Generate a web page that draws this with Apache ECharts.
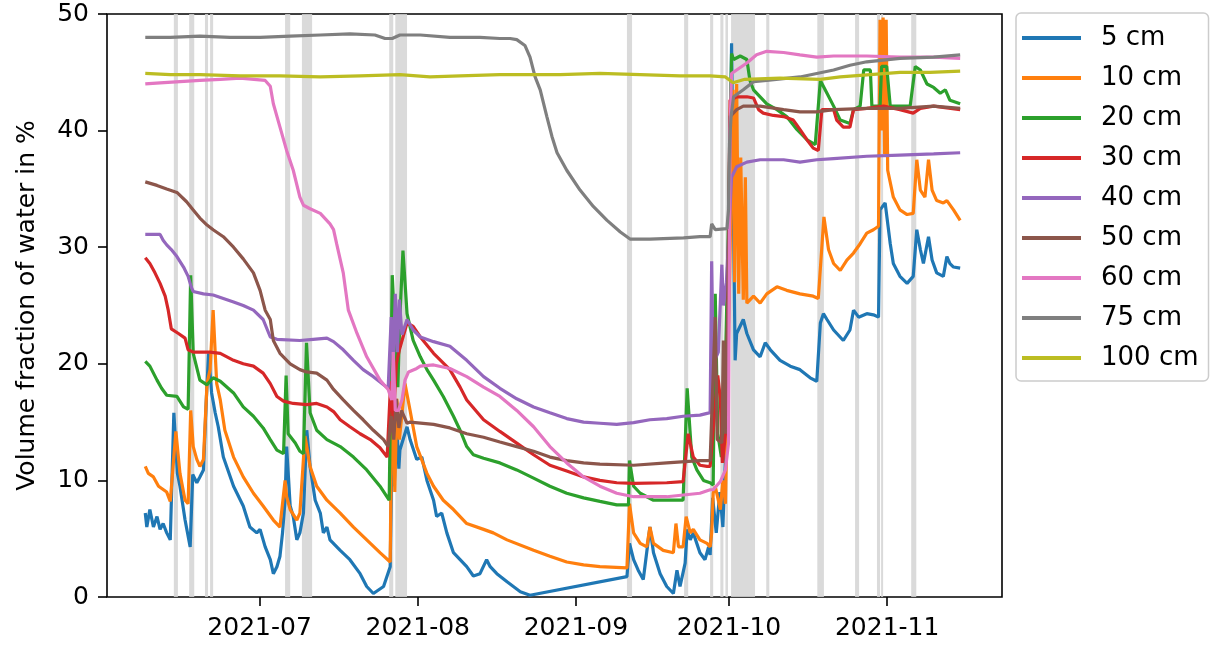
<!DOCTYPE html>
<html>
<head>
<meta charset="utf-8">
<script src="https://cdn.jsdelivr.net/npm/echarts@6/dist/echarts.min.js"></script>
<style>
html,body{margin:0;padding:0;background:#fff;}
#chart{width:1214px;height:645px;}
</style>
</head>
<body>
<div id="chart"></div>
<script>
// x values: days since 2021-07-01 00:00 ; y values: volume fraction of water in %
const seriesNames = ['5 cm','10 cm','20 cm','30 cm','40 cm','50 cm','60 cm','75 cm','100 cm'];
const tickLabels = ['2021-07','2021-08','2021-09','2021-10','2021-11'];
const yTicks = [0,10,20,30,40,50];

const s5 = [[-22.4,7.2],[-22.1,6.0],[-21.5,7.5],[-20.8,6.0],[-20.1,6.9],[-19.5,5.8],[-18.9,6.3],[-18.2,5.5],[-17.5,4.9],[-16.8,15.8],[-16.1,10.6],[-15.6,9.5],[-14.6,6.6],[-13.6,4.3],[-13.1,10.5],[-12.3,9.8],[-11.7,10.3],[-11.0,10.9],[-10.5,16.3],[-10.0,20.9],[-9.4,17.5],[-8.7,15.8],[-8.1,14.6],[-7.1,12.0],[-5.1,9.5],[-3.2,7.8],[-1.9,6.0],[-0.55,5.5],[0.1,5.8],[1.1,4.3],[2.1,3.2],[2.7,2.0],[3.4,2.6],[4.0,3.5],[4.5,5.5],[5.0,8.3],[5.3,12.9],[6.0,7.8],[6.6,6.9],[7.3,4.9],[7.9,5.5],[8.6,7.2],[9.25,14.3],[9.9,11.2],[10.9,8.3],[11.9,7.2],[12.5,5.5],[13.2,6.0],[13.8,4.9],[15.8,4.0],[17.7,3.2],[19.7,2.0],[21.0,0.9],[22.3,0.3],[24.3,0.9],[25.6,2.6],[26.0,14.5],[26.4,9.5],[26.8,15.5],[27.3,11.0],[27.5,12.6],[28.9,14.6],[29.5,13.5],[30.8,11.8],[31.8,12.0],[32.8,10.0],[34.1,8.3],[34.7,6.9],[35.7,7.2],[36.7,5.5],[38.0,3.8],[39.3,3.2],[40.6,2.6],[41.9,1.8],[43.2,2.0],[44.5,3.2],[45.2,2.6],[46.5,2.0],[48.5,1.3],[51.1,0.45],[53.0,0.15],[72.0,1.75],[72.5,4.6],[73.3,3.2],[74.2,2.3],[75.2,1.5],[76.5,6.0],[77.2,3.8],[78.5,2.0],[79.8,0.9],[81.1,0.3],[81.8,2.3],[82.4,0.9],[83.4,2.9],[83.8,5.8],[84.4,4.9],[85.0,5.5],[86.3,3.8],[87.3,3.2],[88.0,4.3],[88.3,3.6],[88.8,8.5],[89.5,5.5],[90.2,9.0],[90.8,6.0],[91.3,12.0],[91.8,20.0],[92.5,47.5],[93.2,20.3],[93.5,22.6],[94.8,23.8],[95.5,22.6],[96.8,21.2],[98.1,20.6],[99.1,21.8],[100.1,21.2],[102.0,20.3],[104.0,19.8],[105.9,19.5],[107.9,18.8],[109.2,18.5],[109.9,23.5],[110.5,24.3],[111.2,23.8],[112.5,22.9],[114.4,22.0],[115.7,22.9],[116.4,24.6],[117.4,24.0],[119.0,24.3],[120.3,24.2],[121.3,24.0],[121.6,33.2],[122.6,33.8],[123.6,30.3],[124.2,28.6],[125.5,27.5],[126.9,26.9],[128.1,27.5],[128.8,31.5],[129.5,29.8],[130.1,28.6],[131.1,30.9],[131.8,28.9],[132.7,27.8],[134.0,27.5],[134.7,29.2],[135.3,28.6],[136.0,28.3],[137.3,28.2]];

const s10 = [[-22.4,11.2],[-21.8,10.6],[-20.8,10.3],[-19.8,9.5],[-18.2,9.0],[-17.5,8.2],[-16.4,14.2],[-15.6,10.6],[-14.6,8.3],[-14.0,8.0],[-13.5,16.0],[-13.0,12.9],[-12.3,11.8],[-11.7,11.2],[-11.0,11.8],[-10.3,18.3],[-9.7,19.5],[-9.1,24.6],[-8.4,18.3],[-7.7,16.9],[-6.8,14.3],[-5.1,12.0],[-3.2,10.3],[-1.2,8.9],[0.7,7.8],[2.7,6.6],[4.0,6.0],[5.0,10.0],[5.3,8.6],[6.0,7.5],[7.3,6.6],[7.9,7.2],[8.9,13.8],[9.9,11.2],[11.2,9.5],[13.2,8.3],[15.8,7.2],[18.4,6.0],[21.0,4.9],[23.6,3.8],[25.6,3.0],[26.0,21.0],[26.5,9.0],[26.9,17.0],[27.4,13.5],[28.5,18.3],[29.5,16.0],[30.8,12.9],[32.8,10.6],[34.1,9.5],[36.0,8.3],[38.0,7.5],[40.6,6.3],[43.9,5.8],[45.8,5.5],[48.5,4.9],[53.7,4.0],[56.9,3.5],[60.2,3.0],[63.5,2.75],[66.7,2.6],[72.0,2.5],[72.5,8.0],[73.3,5.5],[74.6,4.6],[75.9,4.3],[76.5,6.0],[77.2,4.6],[79.1,4.0],[81.1,3.8],[81.6,6.3],[82.1,4.3],[83.0,4.3],[83.6,6.9],[84.4,5.5],[85.0,5.8],[86.3,4.9],[87.7,4.6],[88.3,4.3],[88.6,5.5],[88.9,8.9],[89.3,9.5],[89.9,8.3],[90.3,7.5],[90.8,10.0],[91.3,8.0],[91.8,20.0],[92.8,43.5],[93.1,27.0],[93.5,44.0],[93.9,26.0],[94.3,37.7],[94.8,25.5],[95.2,36.0],[95.5,25.2],[96.8,25.8],[98.1,25.2],[99.4,26.0],[100.4,26.3],[101.4,26.6],[103.3,26.3],[105.9,26.0],[108.5,25.8],[109.5,25.6],[110.6,32.6],[111.5,29.8],[112.5,28.6],[113.8,28.0],[115.1,28.9],[116.4,29.5],[117.7,30.3],[119.0,31.2],[120.3,31.5],[121.3,31.8],[121.6,49.5],[121.9,40.0],[122.2,49.7],[122.5,38.0],[122.8,49.5],[123.1,36.6],[124.2,34.3],[125.5,33.2],[126.9,32.8],[128.1,32.9],[128.8,37.5],[129.5,34.9],[130.4,34.3],[131.1,37.5],[131.8,34.9],[132.7,34.0],[134.0,33.8],[134.7,34.0],[136.0,33.2],[137.3,32.3]];

const s20 = [[-22.4,20.2],[-21.5,19.8],[-20.1,18.6],[-19.2,17.9],[-18.2,17.3],[-16.2,17.2],[-14.9,16.3],[-14.0,16.1],[-13.5,27.6],[-13.0,20.9],[-11.7,18.6],[-10.3,18.2],[-9.1,18.8],[-7.7,18.5],[-5.1,17.5],[-3.2,16.3],[-1.2,15.5],[0.7,14.5],[2.1,13.5],[3.4,12.6],[4.7,12.3],[5.2,19.0],[5.6,14.0],[7.0,13.2],[7.9,12.5],[8.6,12.3],[9.2,21.8],[9.9,15.8],[11.2,14.3],[13.2,13.5],[15.8,12.9],[18.4,12.0],[21.0,10.9],[23.6,9.5],[25.4,8.3],[26.0,27.6],[26.6,22.0],[27.1,18.0],[27.5,24.0],[28.1,29.7],[28.9,24.3],[30.1,22.0],[31.5,20.6],[32.8,19.5],[34.1,18.6],[36.0,17.2],[38.0,15.5],[39.3,14.3],[40.6,12.9],[41.9,12.2],[43.9,11.9],[47.1,11.5],[50.4,10.9],[53.7,10.2],[56.9,9.5],[60.2,8.9],[63.5,8.5],[66.7,8.2],[70.0,7.9],[72.3,7.9],[72.5,11.7],[73.3,9.5],[74.6,8.9],[77.2,8.3],[83.0,8.3],[83.8,17.9],[84.7,12.0],[85.7,10.9],[87.0,10.0],[88.3,9.8],[88.9,9.6],[89.3,26.0],[89.8,14.0],[90.5,12.0],[91.2,18.0],[91.8,30.0],[92.5,46.6],[92.9,46.1],[94.2,46.4],[95.5,46.1],[96.1,44.3],[96.8,43.5],[98.1,42.9],[99.4,42.3],[101.4,41.8],[103.3,41.2],[105.3,40.1],[107.3,39.2],[108.9,38.8],[109.9,44.3],[111.2,43.2],[112.5,42.1],[113.8,40.9],[115.7,40.6],[116.4,41.8],[117.7,42.1],[118.4,45.2],[119.7,45.2],[120.0,42.1],[121.6,42.1],[121.9,45.5],[122.9,45.5],[123.6,42.1],[127.5,42.1],[128.5,45.5],[129.5,45.2],[130.8,44.0],[132.1,43.7],[133.4,43.2],[134.4,43.5],[135.3,42.6],[137.3,42.3]];

const s30 = [[-22.4,29.1],[-21.5,28.6],[-20.5,27.8],[-19.5,26.9],[-18.5,25.8],[-17.9,24.6],[-17.6,23.8],[-17.3,23.0],[-15.9,22.6],[-14.6,22.2],[-14.0,21.2],[-13.0,21.0],[-9.7,21.0],[-7.7,20.9],[-5.1,20.3],[-3.2,20.0],[-1.2,19.8],[0.7,19.2],[2.1,18.3],[3.4,17.2],[4.7,16.8],[6.6,16.6],[9.2,16.5],[11.2,16.6],[13.2,16.3],[14.5,15.9],[15.8,15.2],[17.7,14.6],[19.7,14.0],[21.7,13.5],[23.6,12.8],[25.0,12.0],[25.7,18.5],[26.2,15.0],[26.8,20.0],[27.4,21.2],[28.9,23.5],[30.1,23.2],[31.5,22.3],[34.1,20.9],[37.3,19.5],[39.3,18.0],[40.6,16.9],[43.9,15.2],[47.1,14.2],[50.4,13.2],[53.7,12.2],[56.9,11.3],[60.2,10.8],[63.5,10.3],[66.7,10.0],[70.0,9.8],[73.3,9.75],[79.8,9.8],[83.0,9.9],[84.0,14.0],[85.0,12.0],[86.3,11.3],[87.7,11.2],[88.3,11.2],[89.8,19.0],[90.3,17.0],[90.7,11.5],[91.3,14.0],[91.8,25.0],[92.2,42.6],[93.5,42.9],[95.5,42.9],[96.8,42.8],[97.8,41.8],[98.7,41.5],[100.7,41.3],[102.7,41.2],[104.6,40.9],[105.9,40.1],[107.3,39.2],[108.5,38.5],[109.5,38.3],[110.2,41.8],[112.5,41.8],[113.1,40.9],[114.4,40.3],[115.7,40.3],[116.4,41.8],[119.0,41.9],[122.3,42.1],[125.5,41.8],[128.1,41.5],[129.5,41.9],[132.1,42.1],[137.3,41.8]];

const s40 = [[-22.4,31.1],[-19.5,31.1],[-18.9,30.6],[-18.2,30.2],[-17.3,29.8],[-16.2,29.2],[-14.9,28.3],[-14.0,27.5],[-13.4,26.6],[-13.0,26.2],[-11.0,26.0],[-9.1,25.9],[-7.1,25.6],[-5.1,25.3],[-3.2,25.0],[-1.2,24.6],[0.7,23.8],[2.1,22.3],[3.4,22.1],[7.9,22.0],[10.5,22.1],[13.2,22.2],[14.5,21.9],[16.4,21.2],[18.4,20.3],[20.3,19.5],[22.3,18.9],[24.3,18.2],[25.2,17.9],[25.8,24.0],[26.2,20.0],[26.6,26.0],[27.0,21.0],[27.4,25.5],[27.9,22.5],[28.9,23.8],[30.1,22.9],[31.5,22.3],[34.1,21.9],[37.3,21.5],[40.6,20.3],[43.9,18.9],[47.1,17.9],[50.4,17.0],[53.7,16.3],[56.9,15.8],[60.2,15.3],[63.5,15.0],[66.7,14.9],[70.0,14.8],[73.3,14.95],[76.5,15.2],[79.8,15.3],[83.0,15.5],[86.3,15.6],[87.7,15.75],[88.3,15.8],[88.6,28.8],[88.9,20.0],[89.9,21.0],[90.6,28.5],[90.9,25.0],[91.5,27.0],[92.5,36.0],[93.5,36.9],[95.5,37.3],[98.1,37.5],[102.7,37.5],[105.9,37.3],[109.2,37.5],[112.5,37.6],[119.0,37.8],[125.5,37.9],[132.1,38.0],[137.3,38.1]];

const s50 = [[-22.4,35.6],[-20.1,35.3],[-18.2,35.0],[-16.2,34.7],[-14.3,33.9],[-13.0,33.2],[-11.7,32.5],[-10.3,31.9],[-9.1,31.5],[-7.1,30.9],[-5.1,30.0],[-3.2,29.0],[-1.2,27.8],[0.1,26.3],[1.1,24.6],[2.1,23.8],[2.7,22.0],[4.0,20.9],[6.0,20.0],[7.9,19.5],[9.2,19.3],[11.2,19.2],[13.2,18.6],[14.5,17.8],[16.4,16.9],[18.4,16.0],[20.3,15.2],[22.3,14.3],[24.3,13.5],[25.2,12.9],[25.8,15.5],[26.3,13.5],[26.8,17.0],[27.3,14.5],[27.8,16.0],[28.9,14.9],[29.5,15.0],[34.1,14.8],[37.3,14.5],[40.6,14.0],[43.9,13.7],[47.1,13.3],[50.4,12.9],[53.7,12.5],[56.9,12.0],[60.2,11.7],[63.5,11.5],[66.7,11.4],[73.3,11.3],[79.8,11.5],[86.3,11.7],[88.3,11.7],[89.3,24.0],[89.7,13.5],[90.6,13.2],[90.9,22.0],[91.3,14.0],[91.7,24.0],[92.2,41.2],[93.5,41.8],[94.8,42.1],[98.1,42.1],[102.7,41.8],[105.9,41.6],[109.2,41.6],[112.5,41.8],[119.0,41.9],[125.5,41.9],[132.1,42.1],[137.3,41.9]];

const s60 = [[-22.4,44.0],[-19.5,44.1],[-15.6,44.2],[-11.7,44.3],[-7.7,44.4],[-3.8,44.5],[1.1,44.3],[2.1,43.8],[2.7,42.3],[4.0,40.3],[5.3,38.3],[6.6,36.6],[7.9,34.3],[8.6,33.6],[9.9,33.3],[11.9,32.9],[13.8,32.0],[14.5,31.5],[15.1,30.3],[16.4,27.8],[17.4,24.6],[19.1,22.6],[21.0,20.6],[23.6,18.6],[25.2,17.8],[25.9,16.9],[26.2,21.0],[26.6,16.0],[27.2,16.0],[27.9,16.9],[28.5,18.6],[29.2,19.3],[30.8,19.6],[31.5,19.8],[34.1,19.9],[37.3,19.6],[40.6,18.9],[43.9,18.0],[47.1,17.2],[50.4,16.0],[53.7,14.6],[56.9,12.9],[60.2,11.5],[63.5,10.3],[66.7,9.5],[70.0,8.9],[73.3,8.6],[79.8,8.6],[86.3,8.9],[88.3,9.2],[88.9,9.2],[90.3,9.9],[91.3,10.9],[91.9,13.2],[92.2,40.0],[92.5,44.9],[93.5,45.2],[95.5,45.8],[97.4,46.5],[99.4,46.8],[102.7,46.7],[105.9,46.5],[109.2,46.3],[112.5,46.4],[119.0,46.4],[125.5,46.3],[132.1,46.3],[137.3,46.2]];

const s75 = [[-22.4,48.0],[-17.5,48.0],[-11.7,48.1],[-5.8,48.0],[0.1,48.0],[6.0,48.1],[11.9,48.2],[17.7,48.3],[22.6,48.2],[24.6,47.9],[26.0,47.9],[27.5,48.2],[31.5,48.2],[37.3,48.0],[43.2,48.0],[47.1,47.9],[49.1,47.9],[50.4,47.8],[52.0,47.3],[53.0,46.3],[54.0,44.6],[55.0,43.5],[56.3,41.2],[57.3,39.5],[58.3,38.1],[60.2,36.6],[62.8,34.9],[65.4,33.5],[68.1,32.3],[70.7,31.3],[72.6,30.7],[76.5,30.7],[83.1,30.8],[86.3,30.9],[88.3,30.9],[88.6,32.0],[89.3,31.5],[91.6,31.6],[91.9,33.2],[92.1,38.9],[92.4,41.2],[92.9,42.9],[94.8,43.5],[96.8,44.2],[99.4,44.3],[105.9,44.6],[112.5,45.2],[115.7,45.6],[119.0,45.9],[125.5,46.2],[132.1,46.3],[137.3,46.5]];

const s100 = [[-22.4,44.9],[-17.5,44.8],[-11.7,44.8],[-3.8,44.7],[4.0,44.7],[11.9,44.6],[19.7,44.7],[27.5,44.8],[33.4,44.6],[39.3,44.7],[47.1,44.8],[58.9,44.8],[66.7,44.9],[74.6,44.8],[82.4,44.7],[88.3,44.7],[91.3,44.6],[92.8,44.1],[95.1,44.4],[102.0,44.5],[109.9,44.4],[113.8,44.6],[119.7,44.8],[125.5,45.0],[131.4,45.0],[137.3,45.1]];

// shaded periods (days since 2021-07-01)
const bands = [[-16.8,-16.0],[-13.8,-12.8],[-10.7,-10.1],[-9.7,-9.1],[5.0,6.0],[8.3,10.3],[25.4,26.2],[26.6,28.9],[72.0,73.0],[83.2,84.0],[88.3,88.9],[90.3,90.9],[91.3,91.8],[92.4,97.1],[99.3,99.9],[109.3,110.6],[116.7,117.5],[121.0,121.6],[121.8,122.2],[127.7,128.7]];

const xRange = [-29.9, 145.5];
const colors = ['#1f77b4','#ff7f0e','#2ca02c','#d62728','#9467bd','#8c564b','#e377c2','#7f7f7f','#bcbd22'];
const allSeries = [s5,s10,s20,s30,s40,s50,s60,s75,s100];

const T0 = new Date(2021, 6, 1).getTime();
const DAY = 86400000;
const t = d => T0 + d * DAY;
const tickValues = tickLabels.map(l => { const p = l.split('-'); return new Date(+p[0], +p[1] - 1, 1).getTime(); });
const FONT = 'DejaVu Sans';

const series = allSeries.map((arr, i) => ({
  name: seriesNames[i],
  type: 'line',
  data: arr.map(p => [t(p[0]), p[1]]),
  showSymbol: false,
  symbol: 'none',
  lineStyle: { width: 3.2, color: colors[i] },
  itemStyle: { color: colors[i] },
  z: 3,
  silent: true
}));
series.unshift({
  name: 'bands',
  type: 'line',
  data: [],
  z: 1,
  silent: true,
  markArea: {
    silent: true,
    itemStyle: { color: 'rgba(211,211,211,0.85)' },
    data: bands.map(b => [{ xAxis: t(b[0]) }, { xAxis: t(b[1]) }])
  }
});

const chart = echarts.init(document.getElementById('chart'), null, { renderer: 'canvas' });
chart.setOption({
  animation: false,
  backgroundColor: '#fff',
  textStyle: { fontFamily: FONT },
  grid: { left: 107, right: 212, top: 14, bottom: 48, show: true, borderColor: '#000', borderWidth: 1.6, backgroundColor: 'transparent', containLabel: false, outerBoundsMode: 'none' },
  legend: {
    data: seriesNames,
    orient: 'vertical',
    left: 1016, top: 13,
    padding: [10, 10, 8, 6],
    itemWidth: 59, itemHeight: 4, itemGap: 10,
    icon: 'rect',
    backgroundColor: '#fff',
    borderColor: '#cccccc', borderWidth: 1.5, borderRadius: 5,
    textStyle: { fontSize: 26, fontFamily: FONT, color: '#000', lineHeight: 30, padding: [0, 0, 0, 15] }
  },
  xAxis: {
    type: 'value',
    min: t(xRange[0]), max: t(xRange[1]),
    axisLine: { show: false },
    splitLine: { show: false },
    axisTick: { show: true, length: 9, lineStyle: { color: '#000', width: 1.6 }, customValues: tickValues },
    axisLabel: {
      customValues: tickValues,
      fontSize: 25, fontFamily: FONT, color: '#000', margin: 19,
      formatter: v => { const d = new Date(v); return d.getFullYear() + '-' + String(d.getMonth() + 1).padStart(2, '0'); }
    }
  },
  yAxis: {
    type: 'value', min: yTicks[0], max: yTicks[yTicks.length - 1], interval: 10,
    name: 'Volume fraction of water in %',
    nameLocation: 'middle', nameRotate: 90, nameGap: 67,
    nameTextStyle: { fontSize: 25, fontFamily: FONT, color: '#000' },
    axisLine: { show: false },
    splitLine: { show: false },
    axisTick: { show: true, length: 9, lineStyle: { color: '#000', width: 1.6 } },
    axisLabel: { fontSize: 25, fontFamily: FONT, color: '#000', margin: 18 }
  },
  series: series
});
</script>
</body>
</html>
